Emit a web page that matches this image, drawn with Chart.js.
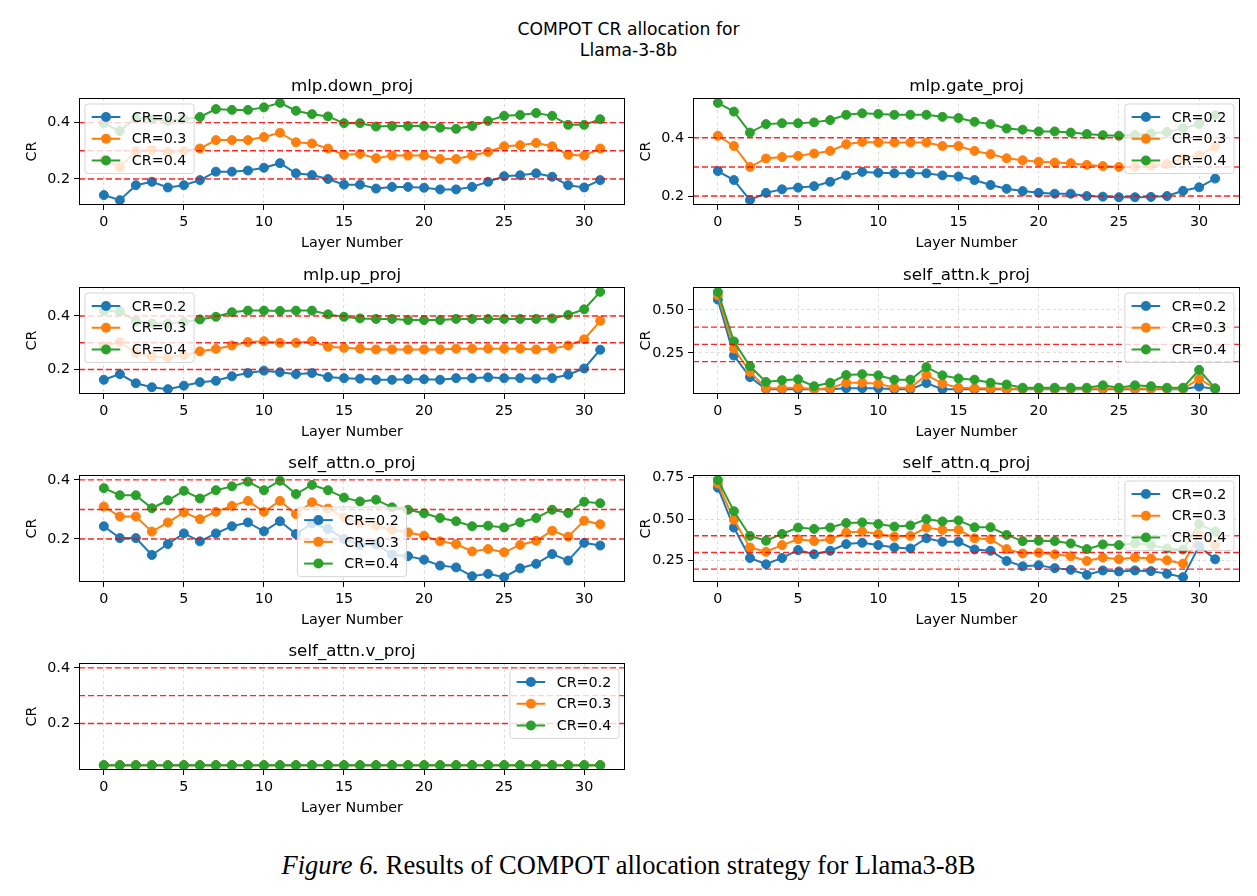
<!DOCTYPE html>
<html>
<head>
<meta charset="utf-8">
<script src="https://cdn.jsdelivr.net/npm/chart.js@4.4.1/dist/chart.umd.min.js"></script>
<style>
  html, body { margin: 0; padding: 0; background: #fff; }
  #fig { position: relative; width: 1257px; height: 896px; overflow: hidden; font-family: "DejaVu Sans", sans-serif; }
  #fig canvas { position: absolute; }
  #suptitle { position: absolute; left: 0; width: 1257px; top: 19px; text-align: center; font-size: 17.2px; line-height: 21px; color: #000; }
  #caption { position: absolute; left: 0; width: 1257px; top: 850px; text-align: center; font-family: "Liberation Serif", "Times New Roman", serif; font-size: 26.5px; line-height: 30px; color: #000; }
</style>
</head>
<body>
<div id="fig">
  <div id="suptitle">COMPOT CR allocation for<br>Llama-3-8b</div>
  <div id="caption"><i>Figure 6.</i> Results of COMPOT allocation strategy for Llama3-8B</div>
</div>
<script>
// layers and shared bits
const layers = [0, 1, 2, 3, 4, 5, 6, 7, 8, 9, 10, 11, 12, 13, 14, 15, 16, 17, 18, 19, 20, 21, 22, 23, 24, 25, 26, 27, 28, 29, 30, 31];
const xTicks = [0, 5, 10, 15, 20, 25, 30];
const thresholds = [0.2, 0.3, 0.4];
const seriesLabels = ["CR=0.2", "CR=0.3", "CR=0.4"];
const colors = ["#1f77b4", "#ff7f0e", "#2ca02c"];

// mlp.down_proj
const downProj02 = [0.143, 0.125, 0.178, 0.19, 0.17, 0.178, 0.196, 0.226, 0.226, 0.23, 0.24, 0.256, 0.22, 0.214, 0.2, 0.18, 0.18, 0.166, 0.172, 0.172, 0.169, 0.163, 0.163, 0.172, 0.19, 0.21, 0.213, 0.22, 0.208, 0.178, 0.17, 0.196];
const downProj03 = [0.268, 0.242, 0.298, 0.304, 0.295, 0.299, 0.308, 0.338, 0.338, 0.338, 0.349, 0.364, 0.33, 0.326, 0.308, 0.286, 0.289, 0.274, 0.283, 0.283, 0.283, 0.271, 0.271, 0.283, 0.296, 0.316, 0.32, 0.328, 0.316, 0.286, 0.283, 0.308];
const downProj04 = [0.397, 0.37, 0.416, 0.412, 0.406, 0.412, 0.42, 0.448, 0.445, 0.445, 0.454, 0.47, 0.442, 0.43, 0.422, 0.398, 0.398, 0.386, 0.388, 0.388, 0.388, 0.382, 0.378, 0.388, 0.406, 0.424, 0.427, 0.434, 0.424, 0.392, 0.392, 0.412];
const downTicks = [0.2, 0.4];
const downTickLabels = ["0.2", "0.4"];

// mlp.gate_proj
const gateProj02 = [0.286, 0.255, 0.186, 0.211, 0.223, 0.229, 0.234, 0.249, 0.271, 0.283, 0.28, 0.278, 0.278, 0.278, 0.271, 0.267, 0.255, 0.238, 0.225, 0.217, 0.211, 0.208, 0.208, 0.2, 0.198, 0.196, 0.196, 0.197, 0.2, 0.218, 0.23, 0.26];
const gateProj03 = [0.407, 0.372, 0.3, 0.329, 0.334, 0.338, 0.346, 0.355, 0.378, 0.386, 0.384, 0.384, 0.384, 0.384, 0.372, 0.372, 0.355, 0.344, 0.33, 0.323, 0.318, 0.315, 0.313, 0.307, 0.303, 0.3, 0.3, 0.305, 0.31, 0.33, 0.34, 0.37];
const gateProj04 = [0.52, 0.49, 0.418, 0.447, 0.45, 0.45, 0.453, 0.461, 0.479, 0.484, 0.482, 0.479, 0.479, 0.479, 0.472, 0.468, 0.455, 0.447, 0.432, 0.428, 0.422, 0.422, 0.418, 0.413, 0.409, 0.407, 0.41, 0.415, 0.42, 0.433, 0.447, 0.478];
const gateTicks = [0.2, 0.4];
const gateTickLabels = ["0.2", "0.4"];

// mlp.up_proj
const upProj02 = [0.162, 0.183, 0.149, 0.134, 0.127, 0.14, 0.153, 0.158, 0.175, 0.187, 0.196, 0.19, 0.183, 0.187, 0.172, 0.168, 0.166, 0.162, 0.162, 0.164, 0.164, 0.162, 0.168, 0.168, 0.171, 0.168, 0.168, 0.166, 0.168, 0.181, 0.204, 0.274];
const upProj03 = [0.287, 0.303, 0.262, 0.249, 0.245, 0.254, 0.268, 0.277, 0.29, 0.303, 0.306, 0.3, 0.3, 0.306, 0.285, 0.281, 0.278, 0.275, 0.275, 0.275, 0.275, 0.275, 0.278, 0.278, 0.278, 0.278, 0.278, 0.275, 0.278, 0.29, 0.313, 0.382];
const upProj04 = [0.419, 0.417, 0.381, 0.372, 0.372, 0.378, 0.387, 0.397, 0.414, 0.42, 0.42, 0.419, 0.42, 0.42, 0.406, 0.397, 0.391, 0.389, 0.389, 0.385, 0.385, 0.385, 0.389, 0.389, 0.389, 0.389, 0.389, 0.389, 0.391, 0.404, 0.425, 0.49];
const upTicks = [0.2, 0.4];
const upTickLabels = ["0.2", "0.4"];

// self_attn.k_proj
const kProj02 = [0.56, 0.235, 0.11, 0.04, 0.04, 0.04, 0.04, 0.04, 0.045, 0.045, 0.045, 0.04, 0.04, 0.075, 0.04, 0.04, 0.04, 0.04, 0.04, 0.04, 0.04, 0.04, 0.04, 0.04, 0.04, 0.04, 0.04, 0.04, 0.04, 0.04, 0.055, 0.04];
const kProj03 = [0.585, 0.275, 0.14, 0.045, 0.045, 0.05, 0.04, 0.045, 0.077, 0.077, 0.072, 0.048, 0.048, 0.123, 0.072, 0.048, 0.045, 0.045, 0.042, 0.042, 0.042, 0.042, 0.042, 0.042, 0.045, 0.042, 0.045, 0.042, 0.042, 0.042, 0.1, 0.045];
const kProj04 = [0.605, 0.317, 0.173, 0.082, 0.092, 0.097, 0.057, 0.077, 0.122, 0.127, 0.12, 0.095, 0.095, 0.168, 0.12, 0.102, 0.095, 0.077, 0.067, 0.048, 0.048, 0.048, 0.048, 0.048, 0.062, 0.048, 0.062, 0.057, 0.048, 0.048, 0.152, 0.044];
const kTicks = [0.25, 0.5];
const kTickLabels = ["0.25", "0.50"];

// self_attn.o_proj
const oProj02 = [0.243, 0.203, 0.203, 0.146, 0.183, 0.219, 0.192, 0.219, 0.243, 0.256, 0.226, 0.26, 0.217, 0.253, 0.234, 0.2, 0.18, 0.183, 0.147, 0.142, 0.13, 0.11, 0.104, 0.074, 0.082, 0.071, 0.101, 0.116, 0.149, 0.127, 0.187, 0.178];
const oProj03 = [0.31, 0.276, 0.276, 0.225, 0.256, 0.29, 0.267, 0.292, 0.312, 0.329, 0.292, 0.329, 0.284, 0.324, 0.303, 0.273, 0.253, 0.245, 0.231, 0.222, 0.211, 0.192, 0.183, 0.158, 0.166, 0.155, 0.18, 0.194, 0.228, 0.208, 0.262, 0.25];
const oProj04 = [0.372, 0.348, 0.348, 0.304, 0.331, 0.363, 0.337, 0.365, 0.378, 0.394, 0.365, 0.397, 0.352, 0.383, 0.365, 0.34, 0.327, 0.333, 0.307, 0.299, 0.287, 0.271, 0.26, 0.243, 0.245, 0.239, 0.256, 0.271, 0.299, 0.288, 0.326, 0.321];
const oTicks = [0.2, 0.4];
const oTickLabels = ["0.2", "0.4"];

// self_attn.q_proj
const qProj02 = [0.688, 0.449, 0.267, 0.229, 0.267, 0.314, 0.289, 0.31, 0.35, 0.358, 0.344, 0.33, 0.324, 0.385, 0.364, 0.364, 0.318, 0.31, 0.249, 0.217, 0.223, 0.206, 0.196, 0.166, 0.192, 0.186, 0.192, 0.188, 0.172, 0.152, 0.338, 0.259];
const qProj03 = [0.713, 0.496, 0.33, 0.304, 0.344, 0.379, 0.368, 0.379, 0.419, 0.425, 0.411, 0.395, 0.399, 0.449, 0.435, 0.435, 0.385, 0.379, 0.32, 0.294, 0.298, 0.289, 0.277, 0.249, 0.269, 0.259, 0.269, 0.263, 0.253, 0.233, 0.405, 0.344];
const qProj04 = [0.735, 0.547, 0.399, 0.37, 0.411, 0.449, 0.441, 0.449, 0.476, 0.48, 0.47, 0.455, 0.462, 0.5, 0.486, 0.492, 0.451, 0.451, 0.405, 0.368, 0.37, 0.368, 0.354, 0.32, 0.348, 0.344, 0.354, 0.344, 0.324, 0.318, 0.47, 0.425];
const qTicks = [0.25, 0.5, 0.75];
const qTickLabels = ["0.25", "0.50", "0.75"];

// self_attn.v_proj
const vProj02 = [0.05, 0.05, 0.05, 0.05, 0.05, 0.05, 0.05, 0.05, 0.05, 0.05, 0.05, 0.05, 0.05, 0.05, 0.05, 0.05, 0.05, 0.05, 0.05, 0.05, 0.05, 0.05, 0.05, 0.05, 0.05, 0.05, 0.05, 0.05, 0.05, 0.05, 0.05, 0.05];
const vProj03 = [0.05, 0.05, 0.05, 0.05, 0.05, 0.05, 0.05, 0.05, 0.05, 0.05, 0.05, 0.05, 0.05, 0.05, 0.05, 0.05, 0.05, 0.05, 0.05, 0.05, 0.05, 0.05, 0.05, 0.05, 0.05, 0.05, 0.05, 0.05, 0.05, 0.05, 0.05, 0.05];
const vProj04 = [0.05, 0.05, 0.05, 0.05, 0.05, 0.05, 0.05, 0.05, 0.05, 0.05, 0.05, 0.05, 0.05, 0.05, 0.05, 0.05, 0.05, 0.05, 0.05, 0.05, 0.05, 0.05, 0.05, 0.05, 0.05, 0.05, 0.05, 0.05, 0.05, 0.05, 0.05, 0.05];
const vTicks = [0.2, 0.4];
const vTickLabels = ["0.2", "0.4"];

const panels = [
  { title: "mlp.down_proj", series: [downProj02, downProj03, downProj04], ticks: downTicks, tickLabels: downTickLabels, legend: "ul", col: 0, row: 0 },
  { title: "mlp.gate_proj", series: [gateProj02, gateProj03, gateProj04], ticks: gateTicks, tickLabels: gateTickLabels, legend: "ur", col: 1, row: 0 },
  { title: "mlp.up_proj", series: [upProj02, upProj03, upProj04], ticks: upTicks, tickLabels: upTickLabels, legend: "ul", col: 0, row: 1 },
  { title: "self_attn.k_proj", series: [kProj02, kProj03, kProj04], ticks: kTicks, tickLabels: kTickLabels, legend: "ur", col: 1, row: 1 },
  { title: "self_attn.o_proj", series: [oProj02, oProj03, oProj04], ticks: oTicks, tickLabels: oTickLabels, legend: [0.4, 0.3], col: 0, row: 2 },
  { title: "self_attn.q_proj", series: [qProj02, qProj03, qProj04], ticks: qTicks, tickLabels: qTickLabels, legend: "ur", col: 1, row: 2 },
  { title: "self_attn.v_proj", series: [vProj02, vProj03, vProj04], ticks: vTicks, tickLabels: vTickLabels, legend: "ur", col: 0, row: 3 },
];

const FONT = "\"DejaVu Sans\"";
const FS = 14.3;
Chart.defaults.font.family = FONT;
Chart.defaults.color = "#000";

const colLeft = [20, 634];
const colWidth = [615, 616];
const rowTop = [98, 287, 475, 663];
const AX_H = 107, TOP_PAD = 30, X_H = 52;

function roundRectPath(ctx, x, y, w, h, r) {
  ctx.beginPath();
  ctx.moveTo(x + r, y);
  ctx.lineTo(x + w - r, y);
  ctx.quadraticCurveTo(x + w, y, x + w, y + r);
  ctx.lineTo(x + w, y + h - r);
  ctx.quadraticCurveTo(x + w, y + h, x + w - r, y + h);
  ctx.lineTo(x + r, y + h);
  ctx.quadraticCurveTo(x, y + h, x, y + h - r);
  ctx.lineTo(x, y + r);
  ctx.quadraticCurveTo(x, y, x + r, y);
  ctx.closePath();
}

// frame, subplot title and matplotlib-like legend
const mplDecor = {
  id: "mplDecor",
  afterDatasetsDraw(chart, args, opts) {
    const { ctx, chartArea: a } = chart;
    ctx.save();
    ctx.strokeStyle = "#000";
    ctx.lineWidth = 1;
    ctx.strokeRect(Math.round(a.left) + 0.5, Math.round(a.top) + 0.5, Math.round(a.right - a.left) - 1, Math.round(a.bottom - a.top) - 1);

    ctx.fillStyle = "#000";
    ctx.font = "16.7px " + FONT;
    ctx.textAlign = "center";
    ctx.textBaseline = "alphabetic";
    ctx.fillText(opts.title, (a.left + a.right) / 2, a.top - 7);

    ctx.font = FS + "px " + FONT;
    const pad = 0.4 * FS, hl = 2 * FS, htp = 0.8 * FS, ls = 0.5 * FS, rh = 1.02 * FS, gap = 6;
    const tw = Math.max(...seriesLabels.map((l) => ctx.measureText(l).width));
    const w = 2 * pad + hl + htp + tw + 3;
    const h = 2 * pad + 3 * rh + 2 * ls;
    let x, y;
    if (opts.legend === "ul") {
      x = a.left + gap; y = a.top + gap;
    } else if (opts.legend === "ur") {
      x = a.right - gap - w; y = a.top + gap;
    } else {
      x = a.left + opts.legend[0] * (a.right - a.left);
      y = a.top + opts.legend[1] * (a.bottom - a.top);
    }
    roundRectPath(ctx, x, y, w, h, 3);
    ctx.fillStyle = "rgba(255,255,255,0.8)";
    ctx.fill();
    ctx.strokeStyle = "rgba(204,204,204,0.8)";
    ctx.stroke();
    ctx.textAlign = "left";
    ctx.textBaseline = "middle";
    seriesLabels.forEach((lab, i) => {
      const cy = y + pad + i * (rh + ls) + rh / 2;
      const x0 = x + pad + 1;
      ctx.strokeStyle = colors[i];
      ctx.lineWidth = 2;
      ctx.beginPath();
      ctx.moveTo(x0, cy);
      ctx.lineTo(x0 + hl, cy);
      ctx.stroke();
      ctx.fillStyle = colors[i];
      ctx.beginPath();
      ctx.arc(x0 + hl / 2, cy, 5, 0, Math.PI * 2);
      ctx.fill();
      ctx.fillStyle = "#000";
      ctx.fillText(lab, x0 + hl + htp, cy + 1);
    });
    ctx.restore();
  },
};

const fig = document.getElementById("fig");

panels.forEach((p) => {
  const canvas = document.createElement("canvas");
  canvas.width = colWidth[p.col];
  canvas.height = TOP_PAD + AX_H + X_H;
  canvas.style.left = colLeft[p.col] + "px";
  canvas.style.top = (rowTop[p.row] - TOP_PAD) + "px";
  fig.appendChild(canvas);

  const all = p.series.flat().concat(thresholds);
  const lo = Math.min(...all), hi = Math.max(...all);
  const ym = (hi - lo) * 0.05;
  const xspan = layers[layers.length - 1] - layers[0];
  const xlo = layers[0] - xspan * 0.05, xhi = layers[layers.length - 1] + xspan * 0.05;

  const refLines = thresholds.map((t) => ({
    data: [{ x: xlo, y: t }, { x: xhi, y: t }],
    borderColor: "rgba(255,0,0,0.85)",
    borderWidth: 1.4,
    borderDash: [6, 3],
    pointRadius: 0,
    order: 1,
  }));
  const lines = p.series.map((vals, i) => ({
    label: seriesLabels[i],
    data: layers.map((l, k) => ({ x: l, y: vals[k] })),
    borderColor: colors[i],
    backgroundColor: colors[i],
    pointBackgroundColor: colors[i],
    pointBorderColor: colors[i],
    borderWidth: 2,
    pointRadius: 4.5,
    pointBorderWidth: 1,
    order: 4 - i,
  }));

  const gridOpts = { color: "rgba(176,176,176,0.55)", lineWidth: 0.8, tickColor: "#000", tickLength: 5, tickWidth: 1, tickBorderDash: [] };

  new Chart(canvas.getContext("2d"), {
    type: "line",
    data: { datasets: lines.concat(refLines) },
    plugins: [mplDecor],
    options: {
      responsive: false,
      animation: false,
      devicePixelRatio: 1,
      layout: { padding: { top: TOP_PAD, right: 10, left: 0, bottom: 0 } },
      plugins: {
        legend: { display: false },
        tooltip: { enabled: false },
        mplDecor: { title: p.title, legend: p.legend },
      },
      scales: {
        x: {
          type: "linear",
          min: xlo,
          max: xhi,
          afterBuildTicks: (s) => { s.ticks = xTicks.map((v) => ({ value: v })); },
          afterFit: (s) => { s.height = X_H; },
          ticks: { autoSkip: false, maxRotation: 0, padding: 4, font: { size: FS }, color: "#000", callback: (v) => String(v) },
          grid: gridOpts,
          border: { display: false, dash: [3, 3] },
          title: { display: true, text: "Layer Number", font: { size: FS }, color: "#000", padding: { top: 2, bottom: 5 } },
        },
        y: {
          type: "linear",
          min: lo - ym,
          max: hi + ym,
          afterBuildTicks: (s) => { s.ticks = p.ticks.map((v) => ({ value: v })); },
          afterFit: (s) => { s.width = 59; },
          ticks: { autoSkip: false, padding: 4, font: { size: FS }, color: "#000", callback: (v) => p.tickLabels[p.ticks.indexOf(v)] },
          grid: gridOpts,
          border: { display: false, dash: [3, 3] },
          title: { display: true, text: "CR", font: { size: FS }, color: "#000", padding: { top: 4, bottom: 0 } },
        },
      },
    },
  });
});
</script>
</body>
</html>
